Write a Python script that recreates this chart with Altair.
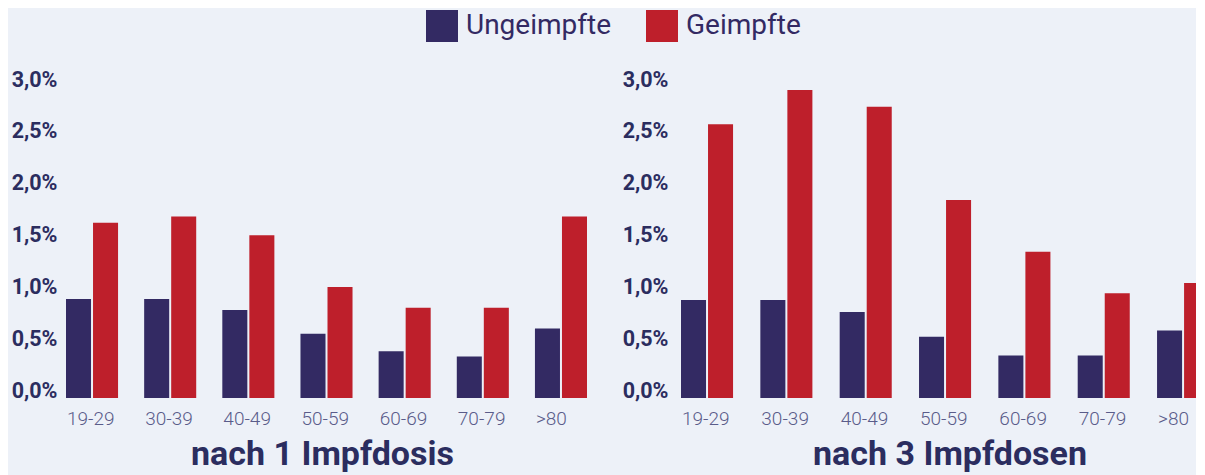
import altair as alt
import pandas as pd

ages = ["19-29", "30-39", "40-49", "50-59", "60-69", "70-79", ">80"]
groups = ["Ungeimpfte", "Geimpfte"]

dose1_ungeimpft = [0.955, 0.955, 0.85, 0.62, 0.45, 0.40, 0.67]
dose1_geimpft = [1.69, 1.75, 1.57, 1.07, 0.87, 0.87, 1.75]
dose3_ungeimpft = [0.945, 0.945, 0.83, 0.59, 0.41, 0.41, 0.65]
dose3_geimpft = [2.64, 2.97, 2.81, 1.91, 1.41, 1.01, 1.11]

titles = ["nach 1 Impfdosis", "nach 3 Impfdosen"]

colors = ["#332a63", "#be1f2b"]
BG = "#edf1f8"
NAVY = "#2b2d5f"
XLAB = "#5a5c8a"
FONT = "Roboto"


def make_df(u, g):
    rows = []
    for a, vu, vg in zip(ages, u, g):
        rows.append({"age": a, "group": groups[0], "value": vu})
        rows.append({"age": a, "group": groups[1], "value": vg})
    return pd.DataFrame(rows)


def panel(df, title, width, pad_inner, off_pad, label_pad, xlab_off, title_dx, show_legend):
    if show_legend:
        legend = alt.Legend(
            orient="none",
            direction="horizontal",
            legendX=360,
            legendY=-77,
            title=None,
            symbolType="square",
            symbolSize=1024,
            symbolStrokeWidth=0,
            labelFontSize=28,
            labelFont=FONT,
            labelColor="#332a63",
            labelOffset=8,
            columnPadding=34,
            labelLimit=300,
        )
    else:
        legend = None
    color_enc = alt.Color(
        "group:N",
        scale=alt.Scale(domain=groups, range=colors),
        legend=legend,
    )
    ch = alt.Chart(df).mark_bar().encode(
        x=alt.X(
            "age:N",
            sort=ages,
            scale=alt.Scale(paddingInner=pad_inner, paddingOuter=0),
            axis=alt.Axis(
                title=None,
                domain=False,
                ticks=False,
                labelAngle=0,
                labelAlign="left",
                labelOffset=xlab_off,
                labelFont=FONT,
                labelFontWeight=300,
                labelFontSize=19,
                labelColor=XLAB,
                labelPadding=11,
            ),
        ),
        xOffset=alt.XOffset(
            "group:N",
            sort=groups,
            scale=alt.Scale(paddingInner=off_pad, paddingOuter=0),
        ),
        y=alt.Y(
            "value:Q",
            scale=alt.Scale(domain=[0, 3.0], nice=False),
            axis=alt.Axis(
                title=None,
                values=[0, 0.5, 1.0, 1.5, 2.0, 2.5, 3.0],
                labelExpr="replace(format(datum.value, '.1f'), '.', ',') + '%'",
                grid=False,
                domain=False,
                ticks=False,
                labelFont=FONT,
                labelFontWeight="bold",
                labelFontSize=21.5,
                labelColor=NAVY,
                labelPadding=label_pad,
                labelOffset=-7,
            ),
        ),
        color=color_enc,
    )
    return ch.properties(
        width=width,
        height=311,
        title=alt.TitleParams(
            title,
            orient="bottom",
            anchor="middle",
            fontSize=34,
            font=FONT,
            fontWeight="bold",
            color=NAVY,
            offset=10,
            dx=title_dx,
        ),
    )


left = panel(make_df(dose1_ungeimpft, dose1_geimpft), titles[0], 521, 0.334, 0.074, 9, -25, -4, True)
right = panel(make_df(dose3_ungeimpft, dose3_geimpft), titles[1], 530, 0.32, 0.0714, 13, -26, 4, False)

chart = (
    alt.hconcat(left, right, spacing=35)
    .resolve_scale(color="shared")
    .properties(
        background=BG,
        padding={"left": 3, "top": 2, "right": -15, "bottom": 6},
    )
    .configure_view(stroke=None)
)

chart.save("out.html", embed_options={"renderer": "svg", "actions": False})
